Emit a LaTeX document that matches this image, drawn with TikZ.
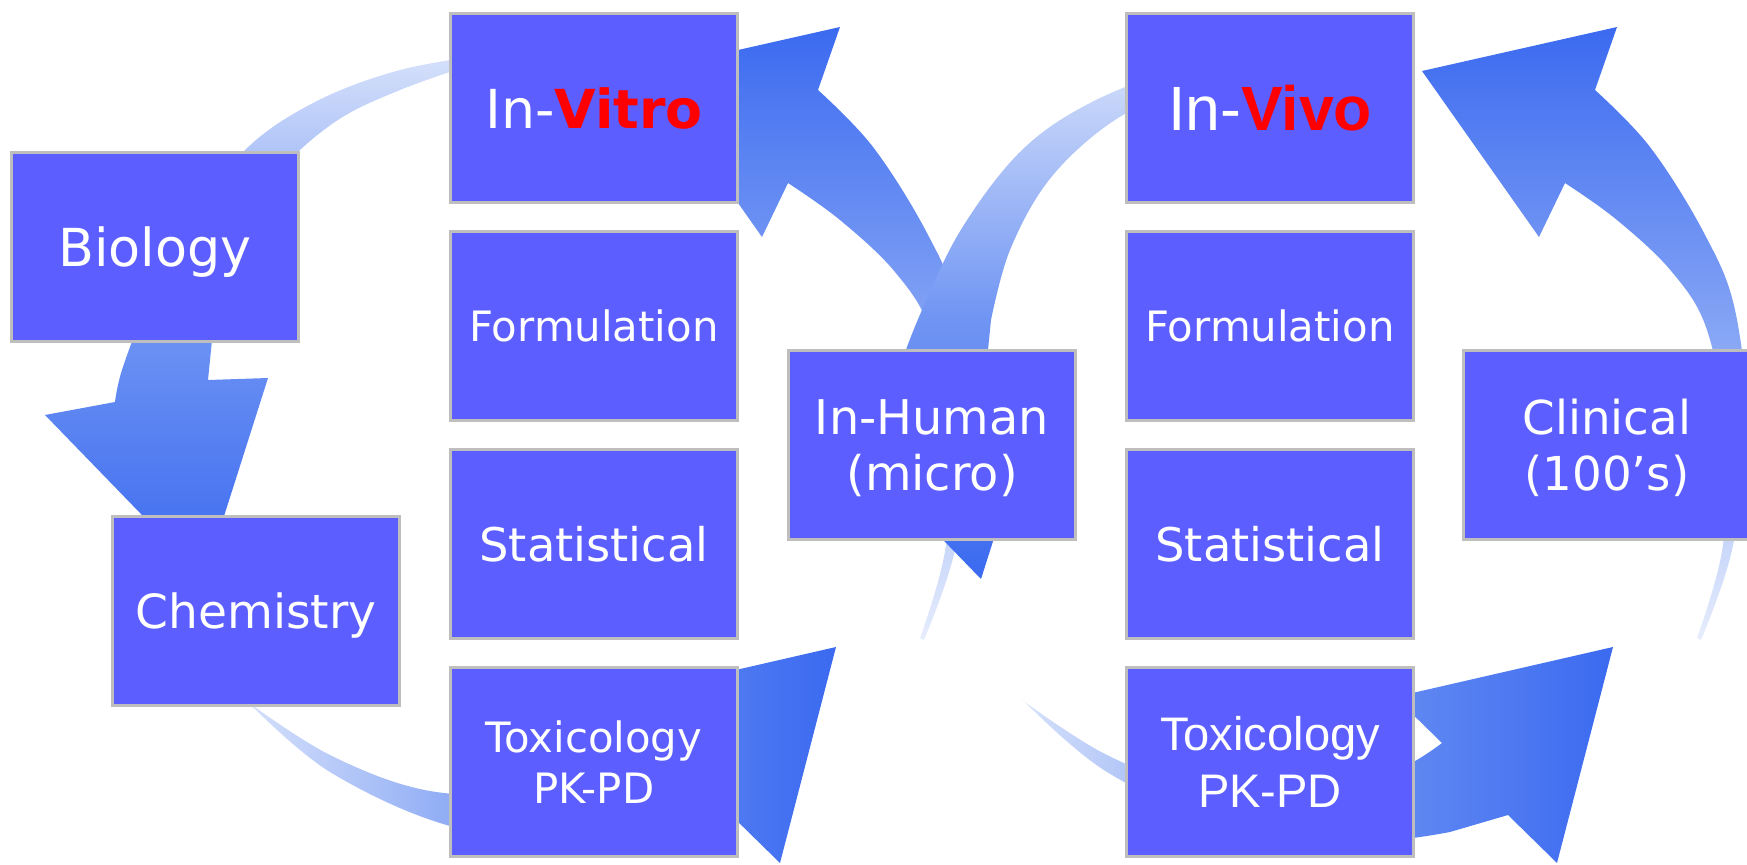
\documentclass[tikz,border=0pt]{standalone}
\usepackage{fontspec}
\setmainfont{DejaVu Sans}
\newfontfamily\arialfont{Liberation Sans}
\definecolor{boxblue}{RGB}{92,94,255}
\definecolor{framegray}{RGB}{190,190,190}
\definecolor{arrowdeep}{RGB}{59,106,240}
\definecolor{arrowmid}{RGB}{112,149,243}
\definecolor{arrowfaint}{RGB}{214,225,250}

\begin{document}
\begin{tikzpicture}[x=0.1mm, y=-0.1mm,
    blk/.style={draw=framegray, line width=0.6pt, fill=boxblue, text=white,
      minimum width=28.7mm, minimum height=18.9mm, inner sep=0pt, align=center,
      text depth=0pt}]
  \useasboundingbox (0,0) rectangle (1747,865);
  \clip (0,0) rectangle (1747,865);
  % the same ring of three arrows, once per cycle
  \foreach \dx in {0,777}{
    \begin{scope}[shift={(\dx,0)}]
      % top, down to the left
      \shade[top color=arrowfaint, bottom color=arrowdeep, middle color=arrowmid]
        plot[smooth, tension=0.6] coordinates {(492,54) (400,70) (315,102) (245,150)
          (185,228) (145,310) (122,370) (115,402)}
        -- (45,415) -- (204,579) -- (268,378) -- (208,380)
        -- plot[smooth, tension=0.6] coordinates {(214,320) (233,250) (272,180)
          (332,124) (400,90) (492,58)} -- cycle;
      % bottom, along to the right
      \shade[left color=arrowfaint, right color=arrowdeep, middle color=arrowmid]
        plot[smooth, tension=0.6] coordinates {(245,700) (330,755) (430,791)
          (540,792) (620,770) (665,743)}
        -- (618,697) -- (836,647) -- (780,863) -- (731,815)
        -- plot[smooth, tension=0.6] coordinates {(673,832) (580,842) (450,826)
          (330,772) (250,704)} -- cycle;
      % right, up to the top
      \shade[top color=arrowdeep, bottom color=arrowfaint!60!white,
          middle color=arrowmid!85!white]
        plot[smooth, tension=0.6] coordinates {(818,90) (873,147) (927,233)
          (958,310) (970,430) (955,550) (924,640)}
        -- plot[smooth, tension=0.6] coordinates {(920,638) (946,545) (948,430)
          (930,330) (895,272) (840,220) (788,183)}
        -- (762,237) -- (645,71) -- (840,27) -- cycle;
    \end{scope}
  }
  % boxes
  \node[blk, font=\fontsize{14.9}{18}\selectfont] (bio) at (155,247) {Biology};
  \node[blk, font=\fontsize{13.4}{16}\selectfont] (chem) at (256,611) {Chemistry};
  \node[blk, font=\fontsize{15.3}{18}\selectfont] (vitro) at (594,108)
    {In-\textcolor{red}{\textbf{Vitro}}};
  \node[blk, font=\fontsize{11.9}{14}\selectfont] (formL) at (594,326) {Formulation};
  \node[blk, font=\fontsize{13.2}{16}\selectfont] (statL) at (594,544) {Statistical};
  \node[blk, font=\fontsize{11.9}{14.5}\selectfont] (toxL) at (594,762) {Toxicology\\PK-PD};
  \node[blk, font=\fontsize{13.6}{16}\selectfont] (human) at (932,445) {In-Human\\(micro)};
  \node[blk, font=\arialfont\fontsize{17.8}{20}\selectfont] (vivo) at (1270,108)
    {In-\textcolor{red}{\textbf{Vivo}}};
  \node[blk, font=\fontsize{11.9}{14}\selectfont] (formR) at (1270,326) {Formulation};
  \node[blk, font=\fontsize{13.2}{16}\selectfont] (statR) at (1270,544) {Statistical};
  \node[blk, font=\arialfont\fontsize{13.4}{16.4}\selectfont] (toxR) at (1270,762) {Toxicology\\PK-PD};
  \node[blk, font=\fontsize{13.3}{16}\selectfont] (clin) at (1607,445) {Clinical\\(100’s)};
\end{tikzpicture}
\end{document}
